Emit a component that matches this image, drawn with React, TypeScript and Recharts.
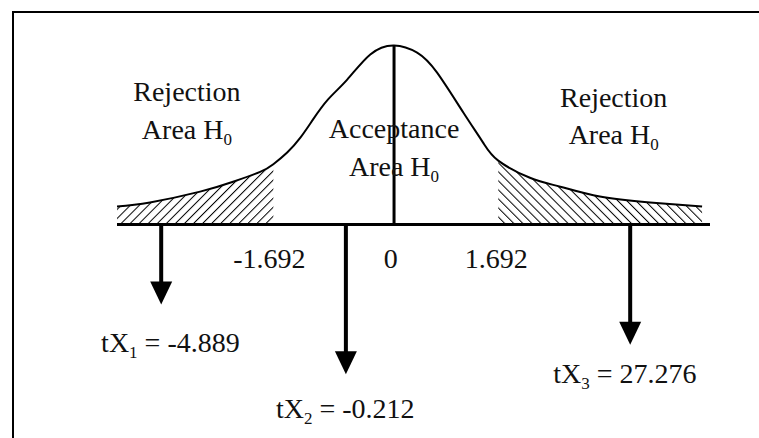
import { ComposedChart, Area, Line, Scatter, XAxis, YAxis, ReferenceLine } from 'recharts';

// curve (schematic position, density)
const positions = [-4.2, -3.7, -2.94, -2.44, -2.03, -1.83, -1.62, -1.42, -1.23, -1.0, -0.71, -0.36, 0, 0.35, 0.65, 1.05, 1.35, 1.58, 2.06, 2.52, 3.12, 3.88, 4.67];
const density = [0.04, 0.049, 0.073, 0.095, 0.117, 0.134, 0.16, 0.193, 0.233, 0.278, 0.322, 0.378, 0.398, 0.382, 0.338, 0.249, 0.182, 0.142, 0.104, 0.084, 0.062, 0.049, 0.04];

// critical values (where the shading stops) and their tick labels
const leftCrit = -1.83;
const rightCrit = 1.58;
const tickPos = [-1.89, -0.05, 1.55];
const tickText = ['-1.692', '0', '1.692'];

// test statistics: arrow position, arrow tip, label
const statPos = [-3.53, -0.73, 3.58];
const statTip = [-0.178, -0.333, -0.267];
const statSub = ['1', '2', '3'];
const statValue = ['-4.889', '-0.212', '27.276'];
const statLabelPos = [-3.39, -0.74, 3.5];
const statLabelY = [-0.284, -0.431, -0.353];

// region labels, two lines each
const regionPos = [-3.14, 0, 3.33];
const regionTop = ['Rejection', 'Acceptance', 'Rejection'];
const regionTopY = [0.274, 0.193, 0.262];
const regionBottomY = [0.189, 0.107, 0.178];

const FONT = "'Liberation Serif', 'Times New Roman', serif";

const curveData = positions.map((x, i) => ({
  x,
  curve: density[i],
  leftTail: x <= leftCrit ? density[i] : null,
  rightTail: x >= rightCrit ? density[i] : null,
}));

type Lbl = { x: number; y: number; text: string; sub?: string; after?: string };

const labels: Lbl[] = [
  ...regionPos.map((x, i) => ({ x, y: regionTopY[i], text: regionTop[i] })),
  ...regionPos.map((x, i) => ({ x, y: regionBottomY[i], text: 'Area H', sub: '0' })),
  ...tickPos.map((x, i) => ({ x, y: -0.096, text: tickText[i] })),
  ...statLabelPos.map((x, i) => ({ x, y: statLabelY[i], text: 'tX', sub: statSub[i], after: ' = ' + statValue[i] })),
];

const tips = statPos.map((x, i) => ({ x, y: statTip[i] }));

const LabelShape = (props: any) => {
  const { cx, cy, payload } = props;
  return (
    <text x={cx} y={cy} textAnchor="middle" style={{ fontFamily: FONT, fontSize: 28 }} fill="#111">
      <tspan>{payload.text}</tspan>
      {payload.sub && (
        <tspan style={{ fontSize: 17 }} dy={6}>
          {payload.sub}
        </tspan>
      )}
      {payload.after && <tspan dy={-6}>{payload.after}</tspan>}
    </text>
  );
};

const ArrowHead = (props: any) => {
  const { cx, cy } = props;
  return <polygon points={`${cx - 11},${cy - 23} ${cx + 11},${cy - 23} ${cx},${cy}`} fill="#000" />;
};

export default function App() {
  return (
    <div style={{ position: 'absolute', left: 0, top: 0, width: 759, height: 438, background: '#fff', overflow: 'hidden' }}>
      <div
        style={{
          position: 'absolute',
          left: 12,
          top: 11,
          width: 800,
          height: 500,
          borderLeft: '2px solid #000',
          borderTop: '2px solid #000',
        }}
      />
      <ComposedChart
        width={759}
        height={438}
        data={curveData}
        margin={{ top: 22, right: 49, bottom: 11, left: 117 }}
        style={{ position: 'absolute', left: 0, top: 0 }}
      >
        <defs>
          <pattern id="hatchLeft" width="6.4" height="6.4" patternUnits="userSpaceOnUse" patternTransform="rotate(45)">
            <line x1="0" y1="0" x2="0" y2="6.4" stroke="#000" strokeWidth="2" />
          </pattern>
          <pattern id="hatchRight" width="6.4" height="6.4" patternUnits="userSpaceOnUse" patternTransform="rotate(-45)">
            <line x1="0" y1="0" x2="0" y2="6.4" stroke="#000" strokeWidth="2" />
          </pattern>
        </defs>
        <XAxis dataKey="x" type="number" domain={[-4.2, 4.79]} hide />
        <YAxis type="number" domain={[-0.45, 0.45]} hide />
        <Area dataKey="leftTail" type="natural" baseValue={0} stroke="none" fill="url(#hatchLeft)" fillOpacity={1} isAnimationActive={false} />
        <Area dataKey="rightTail" type="natural" baseValue={0} stroke="none" fill="url(#hatchRight)" fillOpacity={1} isAnimationActive={false} />
        <Line dataKey="curve" type="natural" stroke="#000" strokeWidth={2} dot={false} isAnimationActive={false} />
        <ReferenceLine y={0} stroke="#000" strokeWidth={3} />
        <ReferenceLine segment={[{ x: 0, y: 0 }, { x: 0, y: 0.398 }]} stroke="#000" strokeWidth={3} />
        {statPos.map((x, i) => (
          <ReferenceLine key={i} segment={[{ x, y: 0 }, { x, y: statTip[i] + 0.02 }]} stroke="#000" strokeWidth={4} />
        ))}
        <Scatter data={tips} dataKey="y" shape={ArrowHead} isAnimationActive={false} />
        <Scatter data={labels} dataKey="y" shape={LabelShape} isAnimationActive={false} />
      </ComposedChart>
    </div>
  );
}
